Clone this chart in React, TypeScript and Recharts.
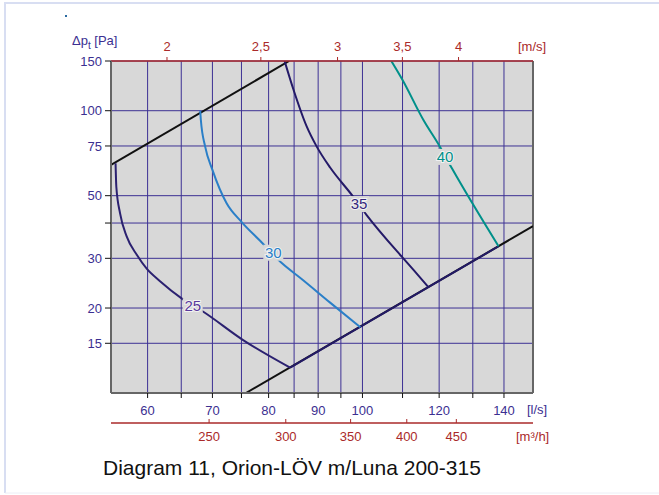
import {
  CartesianGrid,
  ComposedChart,
  Line,
  ReferenceLine,
  Scatter,
  XAxis,
  YAxis,
} from 'recharts';

const FONT = '"Liberation Sans", Arial, Helvetica, sans-serif';

// axis ticks
const flowTicks = [60, 65, 70, 75, 80, 85, 90, 95, 100, 110, 120, 130, 140];
const flowLabels = [60, 70, 80, 90, 100, 120, 140];
const pressureTicks = [15, 20, 30, 40, 50, 75, 100, 150];
const pressureLabels = [15, 20, 30, 50, 75, 100, 150];
const velocityTicks = [2, 2.5, 3, 3.5, 4];
const m3hTicks = [250, 300, 350, 400, 450];

const flowDomain = [55, 150];
const pressureDomain = [10, 150];

// duct Ø200 -> l/s per m/s
const ductAreaLps = Math.PI * 0.1 * 0.1 * 1000;

// working-range limits (q in l/s, p in Pa)
const upperLimit = [
  { q: 55, p: 64.3 },
  { q: 84.0, p: 150 },
];
const lowerLimit = [
  { q: 75.8, p: 10 },
  { q: 150, p: 39 },
];
const lowerLimitMid = [
  { q: 84.2, p: 12.3 },
  { q: 138.2, p: 33.1 },
];

// sound level curves dB(A)
const curve25 = [
  { q: 55.6, p: 65.1 },
  { q: 55.7, p: 53.8 },
  { q: 56.2, p: 43.3 },
  { q: 57.1, p: 35.8 },
  { q: 58.5, p: 30.8 },
  { q: 59.9, p: 27.5 },
  { q: 61.8, p: 24.9 },
  { q: 65.1, p: 21.6 },
  { q: 68.5, p: 19.4 },
  { q: 75.3, p: 15.4 },
  { q: 84.2, p: 12.3 },
];
const curve30 = [
  { q: 68.0, p: 100 },
  { q: 68.1, p: 92.7 },
  { q: 68.8, p: 74.6 },
  { q: 70.0, p: 61.7 },
  { q: 72.4, p: 47.0 },
  { q: 75.0, p: 40.4 },
  { q: 78.4, p: 34.6 },
  { q: 82.6, p: 28.8 },
  { q: 86.6, p: 25.3 },
  { q: 92.6, p: 20.9 },
  { q: 99.5, p: 17.1 },
];
const curve35 = [
  { q: 83.1, p: 150 },
  { q: 84.9, p: 118.4 },
  { q: 87.6, p: 87.8 },
  { q: 89.7, p: 74.6 },
  { q: 92.6, p: 62.9 },
  { q: 97.5, p: 50.3 },
  { q: 101.0, p: 42.7 },
  { q: 109.8, p: 30.4 },
  { q: 112.9, p: 27.3 },
  { q: 117.0, p: 23.7 },
];
const curve40 = [
  { q: 107.1, p: 150 },
  { q: 110.0, p: 128.5 },
  { q: 115.6, p: 92.7 },
  { q: 120.1, p: 75.0 },
  { q: 123.7, p: 62.5 },
  { q: 138.2, p: 33.1 },
];

const curveLabels = [
  { q: 66.8, p: 20.3, text: '25' },
  { q: 80.9, p: 31.4, text: '30' },
  { q: 99.2, p: 46.7, text: '35' },
  { q: 121.7, p: 68.6, text: '40' },
];

const labelColors: Record<string, string> = {
  '25': '#5a3a9c',
  '30': '#2a7fc8',
  '35': '#35287e',
  '40': '#00908a',
};

const PURPLE = '#3b2f91';
const RED = '#aa2a2a';
const GRID = '#3d3194';

function CurveLabel(props: any) {
  const { cx, cy, payload } = props;
  if (cx == null || cy == null) return null;
  const color = labelColors[payload.text];
  return (
    <g>
      <rect x={cx - 10} y={cy - 8} width={20} height={16} fill="#d8d8d8" />
      <text
        x={cx}
        y={cy + 5}
        textAnchor="middle"
        fontSize={15}
        fontFamily={FONT}
        fill={color}
        stroke="#f2f2f2"
        strokeWidth={2}
        paintOrder="stroke"
      >
        {payload.text}
      </text>
    </g>
  );
}

// secondary bottom scale: value is l/s, shown as m³/h
function M3hTick(props: any) {
  const { x, y, payload } = props;
  return (
    <g>
      <line x1={x} x2={x} y1={y - 4} y2={y} stroke={RED} strokeWidth={1} />
      <text x={x} y={y + 18} textAnchor="middle" fontSize={13} fontFamily={FONT} fill={RED}>
        {Math.round(payload.value * 3.6)}
      </text>
    </g>
  );
}

const formatVelocity = (q: number) => String(Math.round((q / ductAreaLps) * 10) / 10).replace('.', ',');

export default function App() {
  // both secondary scales run on the l/s domain, ticks placed at converted values
  const velocityTicksLps = velocityTicks.map((v) => v * ductAreaLps);
  const m3hTicksLps = m3hTicks.map((m) => m / 3.6);

  return (
    <div
      style={{
        position: 'absolute',
        left: 0,
        top: 0,
        width: 659,
        height: 495,
        background: '#fff',
        fontFamily: FONT,
      }}
    >
      <ComposedChart width={659} height={495} margin={{ top: 0, right: 126, bottom: 32, left: 0 }}>
        <CartesianGrid
          xAxisId="flow"
          fill="#d8d8d8"
          fillOpacity={1}
          stroke={GRID}
          strokeWidth={1}
        />
        <XAxis
          xAxisId="velocity"
          dataKey="q"
          orientation="top"
          type="number"
          scale="log"
          domain={flowDomain}
          allowDataOverflow
          ticks={velocityTicksLps}
          interval={0}
          height={61}
          tickSize={4}
          tickMargin={6}
          tickFormatter={formatVelocity}
          tick={{ fill: RED, fontSize: 13, fontFamily: FONT }}
          axisLine={{ stroke: RED, strokeWidth: 1.5 }}
          tickLine={{ stroke: RED }}
        />
        <XAxis
          xAxisId="flow"
          dataKey="q"
          type="number"
          scale="log"
          domain={flowDomain}
          allowDataOverflow
          ticks={flowTicks}
          interval={0}
          height={30}
          tickSize={5}
          tickMargin={8}
          tickFormatter={(v: number) => (flowLabels.includes(v) ? String(v) : '')}
          tick={{ fill: PURPLE, fontSize: 13, fontFamily: FONT }}
          axisLine={{ stroke: '#666', strokeWidth: 2 }}
          tickLine={{ stroke: '#111' }}
        />
        <XAxis
          xAxisId="m3h"
          dataKey="q"
          type="number"
          scale="log"
          domain={flowDomain}
          allowDataOverflow
          ticks={m3hTicksLps}
          interval={0}
          height={40}
          tickSize={0}
          tickMargin={0}
          tick={<M3hTick />}
          axisLine={{ stroke: RED, strokeWidth: 1.5 }}
          tickLine={false}
        />
        <YAxis
          dataKey="p"
          type="number"
          scale="log"
          domain={pressureDomain}
          allowDataOverflow
          ticks={pressureTicks}
          interval={0}
          width={111}
          tickSize={6}
          tickMargin={3}
          tickFormatter={(v: number) => (pressureLabels.includes(v) ? String(v) : '')}
          tick={{ fill: PURPLE, fontSize: 13, fontFamily: FONT }}
          axisLine={{ stroke: '#666', strokeWidth: 2 }}
          tickLine={{ stroke: '#111' }}
        />
        <ReferenceLine xAxisId="flow" x={150} stroke="#666" strokeWidth={2} />

        <Line xAxisId="velocity" data={upperLimit} dataKey="p" stroke="#111" strokeWidth={2} dot={false} activeDot={false} isAnimationActive={false} />
        <Line xAxisId="m3h" data={lowerLimit} dataKey="p" stroke="#111" strokeWidth={2} dot={false} activeDot={false} isAnimationActive={false} />
        <Line xAxisId="flow" data={lowerLimitMid} dataKey="p" stroke="#231a66" strokeWidth={2} dot={false} activeDot={false} isAnimationActive={false} />
        <Line xAxisId="flow" type="monotone" data={curve25} dataKey="p" stroke="#2b2170" strokeWidth={2} dot={false} activeDot={false} isAnimationActive={false} />
        <Line xAxisId="flow" type="monotone" data={curve30} dataKey="p" stroke="#2a7fc8" strokeWidth={2} dot={false} activeDot={false} isAnimationActive={false} />
        <Line xAxisId="flow" type="monotone" data={curve35} dataKey="p" stroke="#241a68" strokeWidth={2} dot={false} activeDot={false} isAnimationActive={false} />
        <Line xAxisId="flow" type="monotone" data={curve40} dataKey="p" stroke="#00908a" strokeWidth={2} dot={false} activeDot={false} isAnimationActive={false} />
        <Scatter xAxisId="flow" data={curveLabels} dataKey="p" shape={<CurveLabel />} isAnimationActive={false} />
      </ComposedChart>

      <svg
        width={659}
        height={495}
        style={{ position: 'absolute', left: 0, top: 0, pointerEvents: 'none' }}
      >
        <line x1={4} x2={659} y1={3} y2={3} stroke="#d8def2" strokeWidth={2} />
        <line x1={5} x2={5} y1={3} y2={493} stroke="#d8def2" strokeWidth={2} />
        <line x1={5} x2={659} y1={493} y2={493} stroke="#eceef6" strokeWidth={1} />
        <rect x={65} y={15} width={2} height={2} fill="#2a6aa0" />

        <text x={72} y={45} fontSize={13} fontFamily={FONT} fill={PURPLE}>
          Δp
          <tspan fontSize={10} dy={4}>t</tspan>
          <tspan dy={-4}> [Pa]</tspan>
        </text>
        <text x={518} y={51} fontSize={13} fontFamily={FONT} fill={RED}>
          [m/s]
        </text>
        <text x={527} y={414} fontSize={13} fontFamily={FONT} fill={PURPLE}>
          [l/s]
        </text>
        <text x={516} y={441} fontSize={13} fontFamily={FONT} fill={RED}>
          [m³/h]
        </text>
        <text x={103} y={475} fontSize={21} fontFamily={FONT} fill="#111">
          Diagram 11, Orion-LÖV m/Luna 200-315
        </text>
      </svg>
    </div>
  );
}
